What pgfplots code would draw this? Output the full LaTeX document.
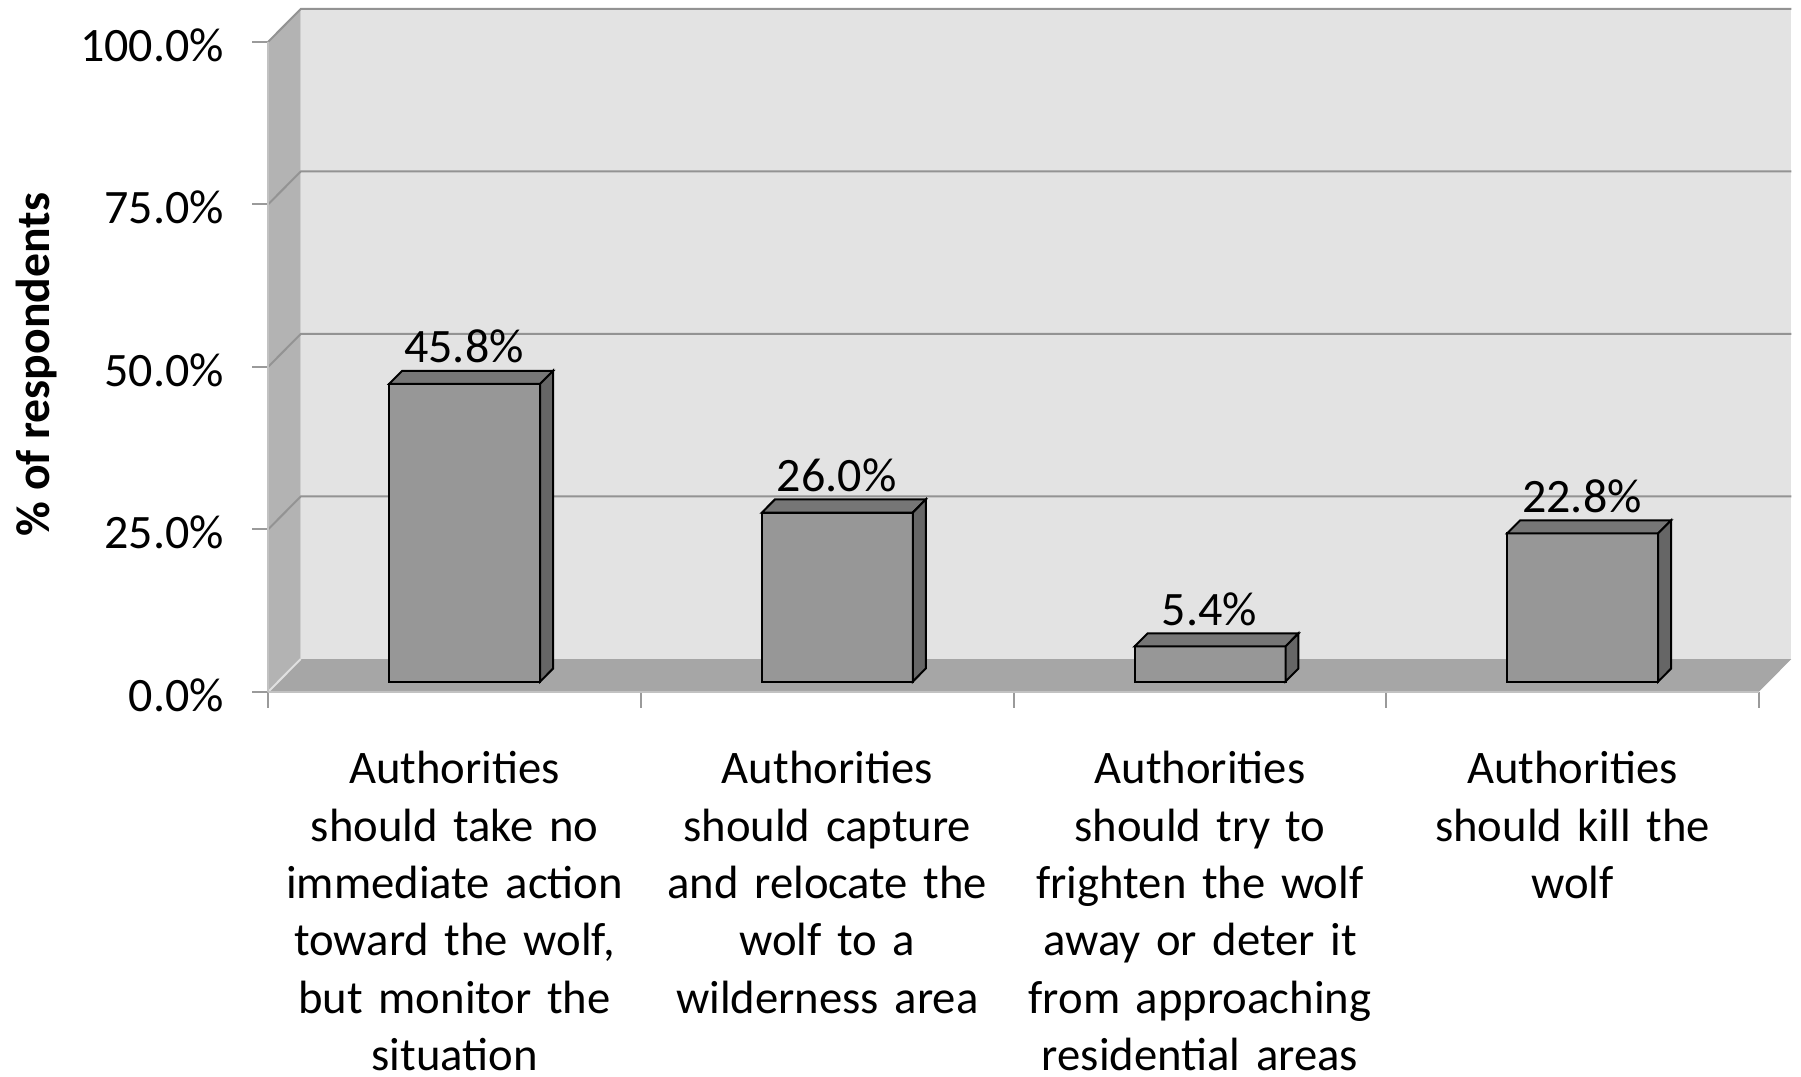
\documentclass[border=0pt]{standalone}
\usepackage{fontspec}
\setmainfont{Carlito}
\usepackage{pgfplots}
\pgfplotsset{compat=1.18}
\definecolor{backwall}{HTML}{E3E3E3}
\definecolor{leftwall}{HTML}{B3B3B3}
\definecolor{floorc}{HTML}{A6A6A6}
\definecolor{gridc}{HTML}{939393}
\definecolor{barfront}{HTML}{979797}
\definecolor{bartop}{HTML}{767676}
\definecolor{barside}{HTML}{666666}
\definecolor{tickc}{HTML}{9A9A9A}
\begin{document}
\begin{tikzpicture}
\begin{axis}[
  x=111.8pt, y=1.95pt,
  xmin=-0.5, xmax=3.5, ymin=0, ymax=100,
  clip=false,
  axis lines*=left,
  axis on top,
  axis line style={draw=tickc!60, line width=0.6pt},
  tick align=outside,
  major tick length=4.8pt,
  minor tick length=4.8pt,
  ytick={0,25,50,75,100},
  yticklabels={0.0\%,25.0\%,50.0\%,75.0\%,100.0\%},
  ytick style={draw=tickc, line width=0.6pt},
  yticklabel style={anchor=east, inner sep=0pt, xshift=-8.3pt, yshift=-1pt, font=\fontsize{14.4}{17.2}\selectfont},
  xtick={0,1,2,3},
  major x tick style={draw=none},
  minor xtick={-0.5,0.5,1.5,2.5,3.5},
  minor x tick style={draw=tickc, line width=0.6pt},
  xticklabels={
    {Authorities\\should take no\\immediate action\\toward the wolf,\\but monitor the\\situation},
    {Authorities\\should capture\\and relocate the\\wolf to a\\wilderness area},
    {Authorities\\should try to\\frighten the wolf\\away or deter it\\from approaching\\residential areas},
    {Authorities\\should kill the\\wolf}},
  xticklabel style={anchor=north, text width=115pt, align=center, yshift=-9.6pt, font=\fontsize{14}{17.2}\selectfont},
]
% walls and floor
\addplot[draw=none, fill=leftwall, forget plot] coordinates {(-0.5,0) (-0.413,5.03) (-0.413,105.03) (-0.5,100)} -- cycle;
\addplot[draw=none, fill=backwall, forget plot] coordinates {(-0.413,5.03) (3.587,5.03) (3.587,105.03) (-0.413,105.03)} -- cycle;
\addplot[draw=none, fill=floorc, forget plot] coordinates {(-0.5,0) (3.5,0) (3.587,5.03) (-0.413,5.03)} -- cycle;
\addplot[draw=white!88!black, line width=0.6pt, forget plot] coordinates {(-0.5,0) (-0.413,5.03)};
% gridlines on left and back walls
\addplot[draw=gridc, line width=0.6pt, forget plot] coordinates {(-0.5,25) (-0.413,30.03) (3.587,30.03)};
\addplot[draw=gridc, line width=0.6pt, forget plot] coordinates {(-0.5,50) (-0.413,55.03) (3.587,55.03)};
\addplot[draw=gridc, line width=0.6pt, forget plot] coordinates {(-0.5,75) (-0.413,80.03) (3.587,80.03)};
\addplot[draw=gridc, line width=0.6pt, forget plot] coordinates {(-0.5,100) (-0.413,105.03) (3.587,105.03)};
% bar 1: 45.8
\addplot[draw=black, line width=0.6pt, fill=barfront, forget plot] coordinates {(-0.1755,1.56) (0.2295,1.56) (0.2295,47.36) (-0.1755,47.36)} -- cycle;
\addplot[draw=black, line width=0.6pt, fill=bartop, forget plot] coordinates {(-0.1755,47.36) (0.2295,47.36) (0.2643,49.37) (-0.1407,49.37)} -- cycle;
\addplot[draw=black, line width=0.6pt, fill=barside, forget plot] coordinates {(0.2295,1.56) (0.2643,3.57) (0.2643,49.37) (0.2295,47.36)} -- cycle;
% bar 2: 26.0
\addplot[draw=black, line width=0.6pt, fill=barfront, forget plot] coordinates {(0.8245,1.56) (1.2295,1.56) (1.2295,27.56) (0.8245,27.56)} -- cycle;
\addplot[draw=black, line width=0.6pt, fill=bartop, forget plot] coordinates {(0.8245,27.56) (1.2295,27.56) (1.2643,29.57) (0.8593,29.57)} -- cycle;
\addplot[draw=black, line width=0.6pt, fill=barside, forget plot] coordinates {(1.2295,1.56) (1.2643,3.57) (1.2643,29.57) (1.2295,27.56)} -- cycle;
% bar 3: 5.4
\addplot[draw=black, line width=0.6pt, fill=barfront, forget plot] coordinates {(1.8245,1.56) (2.2295,1.56) (2.2295,6.96) (1.8245,6.96)} -- cycle;
\addplot[draw=black, line width=0.6pt, fill=bartop, forget plot] coordinates {(1.8245,6.96) (2.2295,6.96) (2.2643,8.97) (1.8593,8.97)} -- cycle;
\addplot[draw=black, line width=0.6pt, fill=barside, forget plot] coordinates {(2.2295,1.56) (2.2643,3.57) (2.2643,8.97) (2.2295,6.96)} -- cycle;
% bar 4: 22.8
\addplot[draw=black, line width=0.6pt, fill=barfront, forget plot] coordinates {(2.8245,1.56) (3.2295,1.56) (3.2295,24.36) (2.8245,24.36)} -- cycle;
\addplot[draw=black, line width=0.6pt, fill=bartop, forget plot] coordinates {(2.8245,24.36) (3.2295,24.36) (3.2643,26.37) (2.8593,26.37)} -- cycle;
\addplot[draw=black, line width=0.6pt, fill=barside, forget plot] coordinates {(3.2295,1.56) (3.2643,3.57) (3.2643,26.37) (3.2295,24.36)} -- cycle;
% data labels
\node[anchor=base, yshift=6.4pt, font=\fontsize{14.4}{17.2}\selectfont] at (axis cs:0.025,47.36) {45.8\%};
\node[anchor=base, yshift=6.4pt, font=\fontsize{14.4}{17.2}\selectfont] at (axis cs:1.025,27.56) {26.0\%};
\node[anchor=base, yshift=6.4pt, font=\fontsize{14.4}{17.2}\selectfont] at (axis cs:2.025,6.96) {5.4\%};
\node[anchor=base, yshift=6.4pt, font=\fontsize{14.4}{17.2}\selectfont] at (axis cs:3.025,24.36) {22.8\%};
% y label
\node[rotate=90, anchor=center, font=\fontsize{14.3}{17.2}\selectfont\bfseries] at (axis cs:-1.122,50.3) {\% of respondents};
\coordinate (O) at (axis cs:-0.5,0);
\end{axis}
\pgfresetboundingbox
\path[use as bounding box] (O) ++(-80.49pt,-115.59pt) rectangle ++(540.3pt,323.1pt);
\end{tikzpicture}
\end{document}
